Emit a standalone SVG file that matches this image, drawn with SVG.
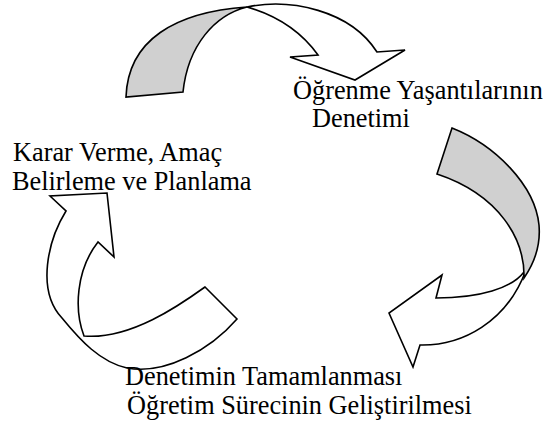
<svg xmlns="http://www.w3.org/2000/svg" width="551" height="430" viewBox="0 0 551 430">
<style>
.s{stroke:#000;stroke-width:1.6;stroke-linejoin:miter;}
.w{fill:#fff;}
.g{fill:#d0d0d0;}
.t{font-family:"Liberation Serif","Times New Roman",serif;font-size:26.3px;fill:#000;}
</style>
<rect width="551" height="430" fill="#fff"/>
<g id="connectors">
  <g id="arrow-top">
    <path class="s w" d="M247,7 C290,-2 350,10 377,52 L405,50 L355,80 L290,57 L318,55 C300,30 275,15 247,7 Z"/>
    <path class="s g" d="M126,97 C128,40 175,12 247,7 C215,15 188,45 183,92 Z"/>
  </g>
  <g id="arrow-right">
    <path class="s w" d="M524,272 C512,288 480,298 436,298 L442,275 L389,313 L413,367 L420,345 C462,346 507,322 526,270 Z"/>
    <path class="s g" d="M452,128 C495,145 535,185 539,225 C541,248 533,265 524,278 C525,240 500,195 437,174 Z"/>
  </g>
  <g id="arrow-left">
    <path class="s w" d="M205,287 C180,305 130,340 84,336 C74,310 76,270 98,242 L114,257 L107,193 L50,196 L66,211 C48,240 36,290 62,318 C80,340 100,362 127,368 C165,375 210,350 237,319 Z"/>
  </g>
</g>
<g id="node-decision">
  <text class="t" x="13" y="161">Karar Verme, Amaç</text>
  <text class="t" x="12" y="190">Belirleme ve Planlama</text>
</g>
<g id="node-control">
  <text class="t" x="293" y="99">Öğrenme Yaşantılarının</text>
  <text class="t" x="312" y="127">Denetimi</text>
</g>
<g id="node-complete">
  <text class="t" x="125" y="385">Denetimin Tamamlanması</text>
  <text class="t" x="127" y="414">Öğretim Sürecinin Geliştirilmesi</text>
</g>
</svg>
